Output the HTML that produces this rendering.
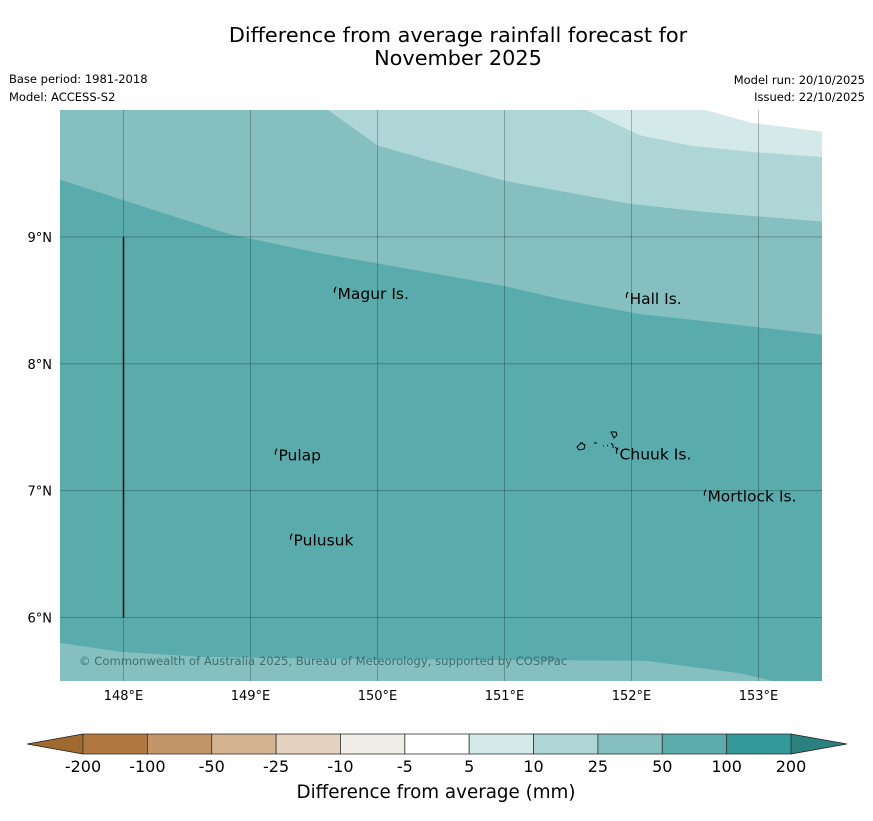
<!DOCTYPE html>
<html><head><meta charset="utf-8"><style>
body{margin:0;background:#fff;width:873px;height:816px;overflow:hidden;font-family:"Liberation Sans","DejaVu Sans",sans-serif}
</style></head><body>
<svg id="s" width="873" height="816" xmlns="http://www.w3.org/2000/svg" font-family="DejaVu Sans, Liberation Sans, sans-serif">
<text x="458" y="42" font-size="20.8" text-anchor="middle">Difference from average rainfall forecast for</text>
<text x="458" y="65" font-size="20.8" text-anchor="middle">November 2025</text>
<text x="9" y="83" font-size="11.5">Base period: 1981-2018</text>
<text x="9" y="101" font-size="11.5">Model: ACCESS-S2</text>
<text x="865" y="84" font-size="11.5" text-anchor="end">Model run: 20/10/2025</text>
<text x="865" y="101" font-size="11.5" text-anchor="end">Issued: 22/10/2025</text>
<g id="map"></g>
<g id="cb"></g>
<text x="436" y="798" font-size="18.3" text-anchor="middle">Difference from average (mm)</text>
</svg>
<script>
const lonTicks=[148,149,150,151,152,153];
const latTicks=[6,7,8,9];
const boundaryA=[[147.5,9.45],[148.37,9.17],[148.84,9.02],[149.55,8.87],[150.34,8.73],[151.01,8.61],[151.44,8.51],[152.07,8.39],[152.54,8.34],[153.5,8.23]];
const boundaryB=[[149.61,10],[150.0,9.72],[150.42,9.6],[151.01,9.44],[151.28,9.39],[151.99,9.26],[152.54,9.2],[153.02,9.16],[153.5,9.12]];
const boundaryC=[[151.64,10],[152.07,9.8],[152.46,9.72],[152.94,9.67],[153.5,9.63]];
const boundaryD=[[152.58,10],[152.94,9.9],[153.5,9.83]];
const boundaryE=[[147.5,5.8],[147.98,5.73],[148.61,5.69],[150.18,5.67],[152.11,5.66],[152.86,5.56],[153.11,5.5]];
const places=[["Magur Is.",149.685,8.543],["Hall Is.",151.984,8.504],["Pulap",149.22,7.268],["Chuuk Is.",151.906,7.276],["Mortlock Is.",152.598,6.945],["Pulusuk",149.339,6.598]];
const cbLabels=["-200","-100","-50","-25","-10","-5","5","10","25","50","100","200"];
const cbColors=["#b07840","#c3966a","#d4b391","#e5d1bf","#f0ece6","#ffffff","#d4e9e9","#aed6d6","#85bfbf","#5aabab","#339999"];
const NS="http://www.w3.org/2000/svg";
const X0=60,X1=822,Y0=110,Y1=681;
const LON0=147.5,LON1=153.5,LAT0=5.5,LAT1=10;
const x=l=>X0+(l-LON0)/(LON1-LON0)*(X1-X0);
const y=l=>Y1-(l-LAT0)/(LAT1-LAT0)*(Y1-Y0);
function mk(t,a,p){const e=document.createElementNS(NS,t);for(const k in a)e.setAttribute(k,a[k]);p.appendChild(e);return e;}
const map=document.getElementById('map');
const bg=mk('rect',{x:X0,y:Y0,width:X1-X0,height:Y1-Y0,fill:'#5aabab'},map);


function topPoly(b,fill,name){
  let pts=b.map(p=>x(p[0])+','+y(p[1]));
  const first=b[0];
  pts.push(X1+','+Y0);
  pts.push(x(first[0])+','+Y0);
  if(first[1]<LAT1) pts.push(X0+','+y(first[1]));
  const e=mk('polygon',{points:pts.join(' '),fill:fill},map);
  
  
}
topPoly(boundaryA,'#85bfbf','region-25-50');
topPoly(boundaryB,'#aed6d6','region-10-25');
topPoly(boundaryC,'#d4e9e9','region-5-10');
topPoly(boundaryD,'#ffffff','region-neutral');
{
  let pts=boundaryE.map(p=>x(p[0])+','+y(p[1]));
  pts.push(X0+','+Y1);
  const e=mk('polygon',{points:pts.join(' '),fill:'#85bfbf'},map);
  
  
}
lonTicks.forEach(l=>{
  const g=mk('line',{x1:x(l),x2:x(l),y1:Y0,y2:Y1,stroke:'#000','stroke-opacity':0.25,'stroke-width':1},map);
  
  
  const t=mk('text',{x:x(l),y:700,'font-size':13,'text-anchor':'middle'},map);
  t.textContent=l+'°E';
  
  
});
latTicks.forEach(l=>{
  const g=mk('line',{x1:X0,x2:X1,y1:y(l),y2:y(l),stroke:'#000','stroke-opacity':0.25,'stroke-width':1},map);
  
  
  const t=mk('text',{x:52,y:y(l)+5,'font-size':13,'text-anchor':'end'},map);
  t.textContent=l+'°N';
  
  
});
const bl=mk('line',{x1:x(148),x2:x(148),y1:y(9),y2:y(6),stroke:'#111','stroke-width':1.5},map);


places.forEach(p=>{
  const tx=x(p[1]),ty=y(p[2])+4;
  const m=mk('path',{d:`M${tx-3},${ty-6} l0,-3 l1.5,-3`,stroke:'#000','stroke-width':1.2,fill:'none'},map);
  
  
  const t=mk('text',{x:tx,y:ty,'font-size':15.5},map);
  t.textContent=p[0];
  
  
});
// Chuuk lagoon islands
const ch=mk('g',{stroke:'#000','stroke-width':1,fill:'none'},map);


mk('path',{d:'M577,447 l4,-4 l4,2 l-1,4 l-5,1 z M580,443 l3,0'},ch);
mk('path',{d:'M594,443 l3,0 M603,446 l1,0 M607,445 l1,1 M611,432 l5,0 l1,3 l-3,3 z M611,443 l2,2 l0,3 M615,447 l2,2'},ch);
const cr=mk('text',{x:79,y:665,'font-size':11.6,fill:'#3f6f6f'},map);
cr.textContent='© Commonwealth of Australia 2025, Bureau of Meteorology, supported by COSPPac';


const cb=document.getElementById('cb');
const CB0=83,CB1=791,CBY=734,CBH=20,W=(CB1-CB0)/cbColors.length;
const lt=mk('polygon',{points:`${CB0},${CBY} 27,${CBY+CBH/2} ${CB0},${CBY+CBH}`,fill:'#a0692f',stroke:'#222','stroke-width':0.8},cb);


const rt=mk('polygon',{points:`${CB1},${CBY} 847,${CBY+CBH/2} ${CB1},${CBY+CBH}`,fill:'#2b8080',stroke:'#222','stroke-width':0.8},cb);


cbColors.forEach((c,i)=>{
  const r=mk('rect',{x:CB0+i*W,y:CBY,width:W,height:CBH,fill:c,stroke:'#333','stroke-width':0.8},cb);
  
  
});
cbLabels.forEach((s,i)=>{
  const t=mk('text',{x:CB0+i*W,y:772,'font-size':16,'text-anchor':'middle'},cb);
  t.textContent=s;
  
  
});
</script>
</body></html>
